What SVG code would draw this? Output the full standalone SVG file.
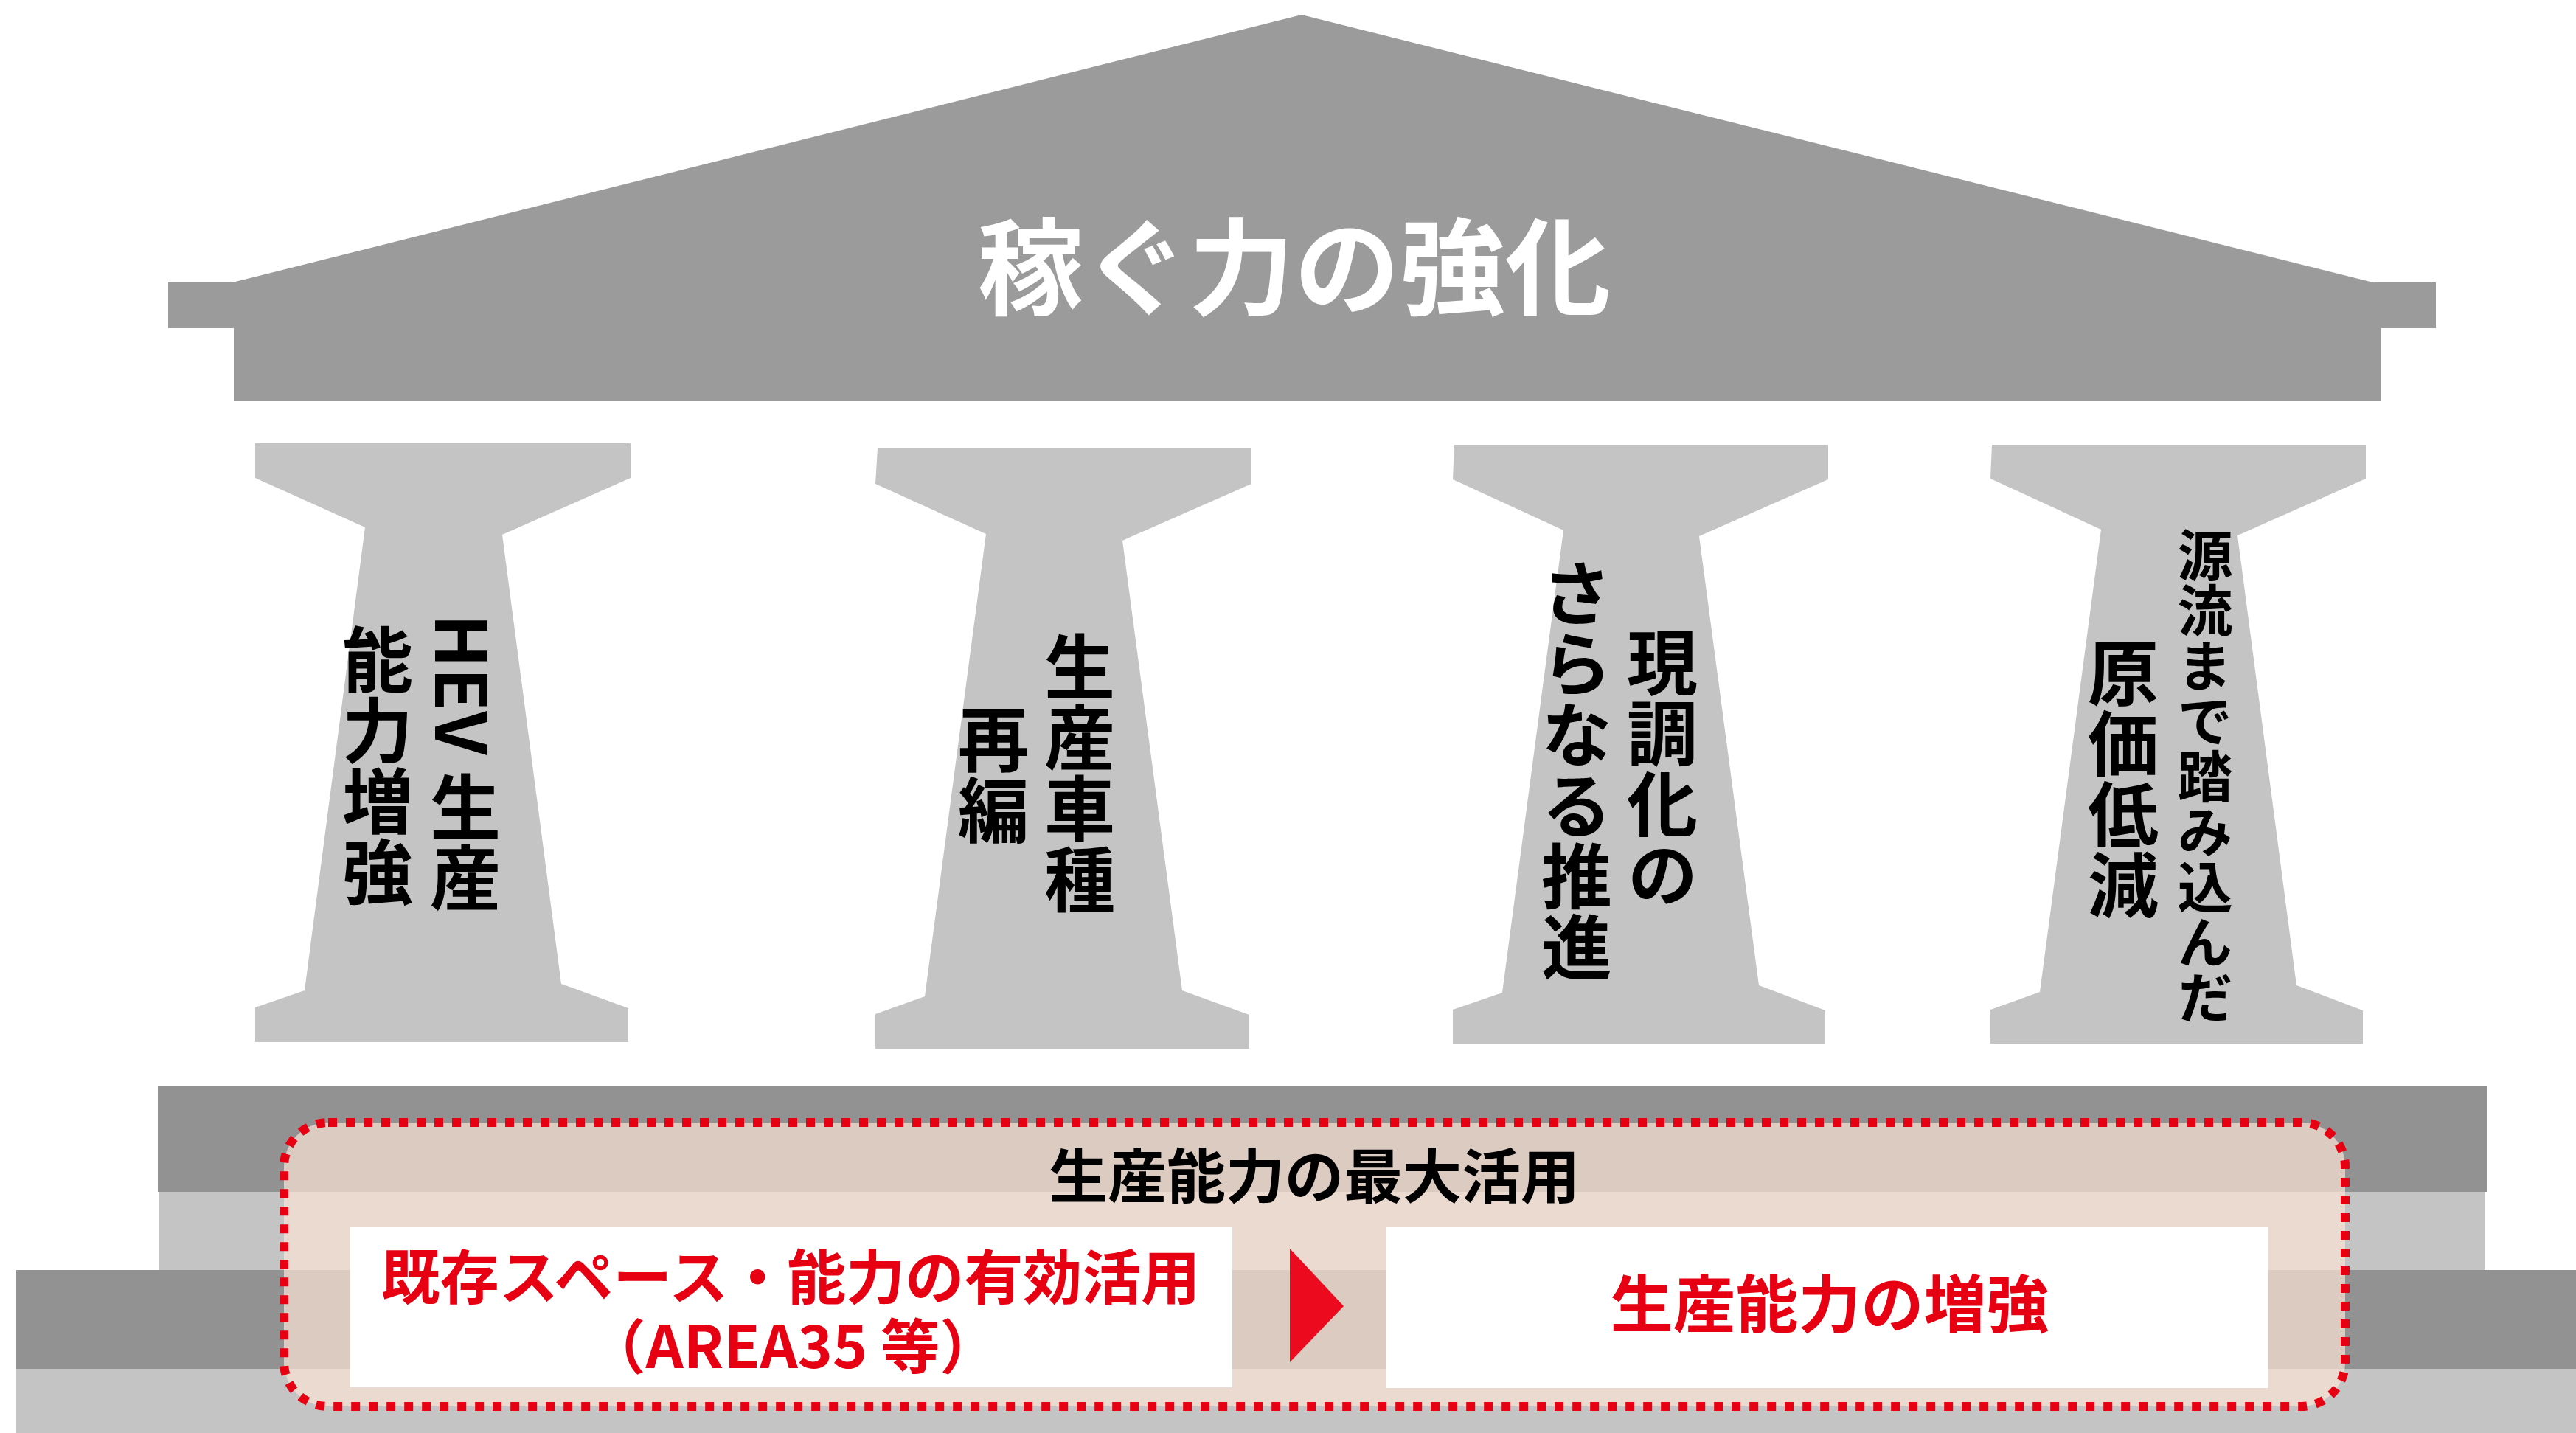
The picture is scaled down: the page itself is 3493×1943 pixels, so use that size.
<svg xmlns="http://www.w3.org/2000/svg" width="3493" height="1943" viewBox="0 0 3493 1943">
  <style>
    .jp { font-family: "Noto Sans CJK JP", "Noto Sans", sans-serif; }
    .pillar { fill: #c4c4c4; }
    .vt { writing-mode: vertical-rl; text-anchor: middle; font-family: "Noto Sans CJK JP", "Noto Sans", sans-serif; fill: #000; font-weight: 700; }
    .red { fill: #e60012; }
  </style>
  <rect width="3493" height="1943" fill="#ffffff"/>

  <g id="roof">
    <polygon points="228,383 315,383 1765,20 3218,383 3303,383 3303,445 3229,445 3229,544 317,544 317,445 228,445" fill="#9b9b9b"/>
    <text class="jp" x="1755" y="416" font-size="143" font-weight="700" fill="#ffffff" text-anchor="middle">稼ぐ力の強化</text>
  </g>

  <g id="pillar-1">
    <polygon class="pillar" points="346,601 855,601 855,648 681,725 761,1334 852,1367 852,1413 346,1413 346,1366 413,1343 495,715 346,648"/>
    <text class="vt" x="631" y="1035" font-size="96" font-weight="500">HEV 生産</text>
    <text class="vt" x="512" y="1038" font-size="96" font-weight="500">能力増強</text>
  </g>

  <g id="pillar-2">
    <polygon class="pillar" points="1190,608 1697,608 1697,656 1522,733 1603,1343 1694,1376 1694,1422 1187,1422 1187,1375 1254,1351 1337,724 1187,656"/>
    <text class="vt" x="1464" y="1048" font-size="96">生産車種</text>
    <text class="vt" x="1347" y="1050" font-size="96">再編</text>
  </g>

  <g id="pillar-3">
    <polygon class="pillar" points="1972,603 2479,603 2479,650 2304,727 2385,1336 2475,1370 2475,1416 1970,1416 1970,1369 2037,1346 2120,719 1970,650"/>
    <text class="vt" x="2254" y="1042" font-size="96">現調化の</text>
    <text class="vt" x="2138" y="1044" font-size="96">さらなる推進</text>
  </g>

  <g id="pillar-4">
    <polygon class="pillar" points="2701,603 3208,603 3208,649 3034,726 3114,1336 3204,1370 3204,1415 2699,1415 2699,1369 2766,1345 2849,718 2699,649"/>
    <text class="vt" x="2990" y="1052" font-size="75">源流まで踏み込んだ</text>
    <text class="vt" x="2879" y="1056" font-size="96">原価低減</text>
  </g>

  <g id="steps">
    <rect x="214" y="1472" width="3158" height="144" fill="#929292"/>
    <rect x="216" y="1616" width="3153" height="106" fill="#c4c4c4"/>
    <rect x="22" y="1722" width="3471" height="134" fill="#929292"/>
    <rect x="22" y="1856" width="3471" height="87" fill="#c4c4c4"/>
  </g>

  <g id="base-frame">
    <rect x="385" y="1522" width="2795" height="385" rx="60" ry="60" fill="#fce4d6" fill-opacity="0.7" stroke="#e60012" stroke-width="12" stroke-dasharray="12 12"/>
    <text class="jp" x="1782" y="1624" font-size="80" font-weight="700" fill="#000" text-anchor="middle">生産能力の最大活用</text>
  </g>

  <g id="box-left">
    <rect x="475" y="1664" width="1196" height="217" fill="#ffffff"/>
    <text class="jp red" font-size="80" font-weight="700" text-anchor="middle"><tspan x="1072" y="1761">既存スペース・能力の有効活用</tspan><tspan x="1075" y="1855">（AREA35 等）</tspan></text>
  </g>

  <g id="box-right">
    <rect x="1880" y="1664" width="1195" height="218" fill="#ffffff"/>
    <text class="jp red" x="2481" y="1800" font-size="85" font-weight="700" text-anchor="middle">生産能力の増強</text>
  </g>

  <g id="connectors">
    <polygon points="1749,1693 1822,1771 1749,1847" fill="#eb0a1e"/>
  </g>
</svg>
